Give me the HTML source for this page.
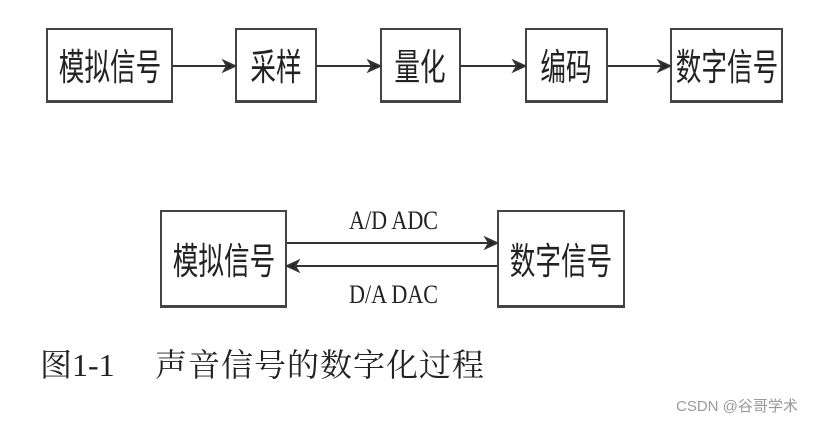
<!DOCTYPE html>
<html><head><meta charset="utf-8"><style>
body{margin:0;width:828px;height:422px;background:#fff;position:relative;overflow:hidden;font-family:"Liberation Serif","Noto Serif CJK SC",serif;}
.b{position:absolute;border:2px solid #444;border-bottom-width:3px;box-sizing:border-box;display:flex;align-items:center;justify-content:center;color:#222;}
.b span{display:inline-block;font-family:"Liberation Sans","Noto Sans CJK SC",sans-serif;font-size:32px;transform:scale(0.8,1.15);white-space:nowrap;}
.t{position:absolute;white-space:nowrap;color:#222;}
</style></head><body>
<div class="b" style="left:46px;top:28px;width:127px;height:75px"><span>模拟信号</span></div>
<div class="b" style="left:235px;top:28px;width:82px;height:75px"><span>采样</span></div>
<div class="b" style="left:380px;top:28px;width:81px;height:75px"><span>量化</span></div>
<div class="b" style="left:525px;top:28px;width:83px;height:75px"><span>编码</span></div>
<div class="b" style="left:670px;top:28px;width:113px;height:75px"><span>数字信号</span></div>
<div class="b" style="left:160px;top:210px;width:127px;height:98px"><span>模拟信号</span></div>
<div class="b" style="left:497px;top:210px;width:128px;height:98px"><span>数字信号</span></div>
<svg width="828" height="422" style="position:absolute;left:0;top:0">
<g stroke="#333" stroke-width="2" fill="#222">
<line x1="173" y1="66" x2="228" y2="66"/><polygon points="235,66 224,61 227,66 224,71"/>
<line x1="317" y1="66" x2="373" y2="66"/><polygon points="380,66 369,61 372,66 369,71"/>
<line x1="461" y1="66" x2="518" y2="66"/><polygon points="525,66 514,61 517,66 514,71"/>
<line x1="608" y1="66" x2="663" y2="66"/><polygon points="670,66 659,61 662,66 659,71"/>
<line x1="287" y1="243" x2="490" y2="243"/><polygon points="497,243 486,238 489,243 486,248"/>
<line x1="294" y1="266" x2="497" y2="266"/><polygon points="287,266 298,261 295,266 298,271"/>
</g></svg>
<div class="t" style="left:349px;top:206px;font-size:26px;transform:scaleX(0.85);transform-origin:left">A/D ADC</div>
<div class="t" style="left:349px;top:280px;font-size:26px;transform:scaleX(0.85);transform-origin:left">D/A DAC</div>
<div class="t" style="left:40px;top:340px;font-size:32px">图1-1</div>
<div class="t" style="left:155px;top:340px;font-size:32px;letter-spacing:1px">声音信号的数字化过程</div>
<div class="t" style="left:676px;top:395px;font-size:15px;color:#999;font-family:'Liberation Sans','Noto Sans CJK SC',sans-serif">CSDN @谷哥学术</div>
</body></html>
